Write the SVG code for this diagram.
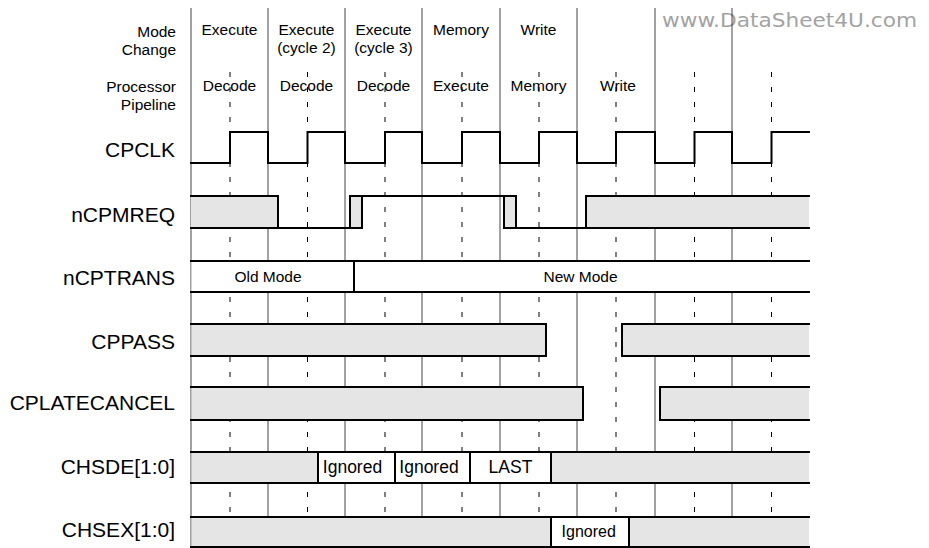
<svg xmlns="http://www.w3.org/2000/svg" width="929" height="548" viewBox="0 0 929 548">
<style>
text{font-family:"Liberation Sans",Arial,sans-serif;fill:#000}
.hdr{font-size:15.5px;text-anchor:middle}
.hl{font-size:15.5px;text-anchor:end}
.sig{font-size:21px;text-anchor:end}
.cyc{stroke:#444;stroke-width:1;fill:none}
.half{stroke:#000;stroke-width:1;stroke-dasharray:5 10;fill:none}
.w{stroke:#000;stroke-width:2;fill:none;stroke-linejoin:miter;stroke-linecap:square}
.g{fill:#e5e5e5;stroke:none}
.wh{fill:#fff;stroke:none}
.bl{font-size:17.5px;text-anchor:middle}
.wm{font-family:"DejaVu Sans",sans-serif;font-size:19px;fill:#a3a3a3}
</style>
<rect width="929" height="548" fill="#fff"/>
<text class="wm" x="662" y="27" textLength="255" lengthAdjust="spacingAndGlyphs">www.DataSheet4U.com</text>
<g id="grid">
<path class="cyc" d="M191,8V548M268,8V548M345,8V548M422,8V548M500,8V548M577,8V548M655,8V548M732,8V548"/>
<path class="half" d="M230,72V548M307.5,72V548M385,72V548M462,72V548M539,72V548M616,72V548M694.5,72V548M771.5,72V548"/>
</g>
<g id="header">
<text class="hl" x="176" y="37">Mode</text>
<text class="hl" x="176" y="55">Change</text>
<text class="hl" x="176" y="91.5">Processor</text>
<text class="hl" x="176" y="109.5">Pipeline</text>
<text class="hdr" x="229.5" y="34.5">Execute</text>
<text class="hdr" x="306.5" y="34.5">Execute</text>
<text class="hdr" x="306.5" y="52.5">(cycle 2)</text>
<text class="hdr" x="383.5" y="34.5">Execute</text>
<text class="hdr" x="383.5" y="52.5">(cycle 3)</text>
<text class="hdr" x="461" y="34.5">Memory</text>
<text class="hdr" x="538.5" y="34.5">Write</text>
<text class="hdr" x="229.5" y="90.7">Decode</text>
<text class="hdr" x="306.5" y="90.7">Decode</text>
<text class="hdr" x="383.5" y="90.7">Decode</text>
<text class="hdr" x="461" y="90.7">Execute</text>
<text class="hdr" x="538.5" y="90.7">Memory</text>
<text class="hdr" x="618" y="90.7">Write</text>
</g>
<g id="labels">
<text class="sig" x="175" y="156.5">CPCLK</text>
<text class="sig" x="175" y="221.5">nCPMREQ</text>
<text class="sig" x="175" y="285">nCPTRANS</text>
<text class="sig" x="175" y="348.5">CPPASS</text>
<text class="sig" x="175" y="410">CPLATECANCEL</text>
<text class="sig" x="175" y="473.5">CHSDE[1:0]</text>
<text class="sig" x="175" y="537">CHSEX[1:0]</text>
</g>
<g id="CPCLK">
<path class="w" d="M191,163H230V132H268V163H307.5V132H345V163H385V132H422V163H462V132H500V163H539V132H577V163H616V132H655V163H694.5V132H732V163H771.5V132H809"/>
</g>
<g id="nCPMREQ">
<rect class="g" x="191" y="196" width="87" height="32"/>
<rect class="g" x="350" y="196" width="12" height="32"/>
<rect class="g" x="504" y="196" width="12" height="32"/>
<rect class="g" x="586" y="196" width="223" height="32"/>
<path class="w" d="M191,196H278V228M191,228H362V196M350,228V196H516V228M504,196V228H809M586,228V196H809"/>
</g>
<g id="nCPTRANS">
<rect class="wh" x="191.5" y="261" width="617.5" height="31"/>
<path class="w" d="M191,261H809M191,292H809M354,261V292"/>
<text class="hdr" x="268" y="281.7">Old Mode</text>
<text class="hdr" x="580.5" y="281.7">New Mode</text>
</g>
<g id="CPPASS">
<rect class="g" x="191.5" y="324" width="354.5" height="32"/>
<rect class="g" x="622" y="324" width="187" height="32"/>
<path class="w" d="M191,324H546V356H191M809,324H622V356H809"/>
</g>
<g id="CPLATECANCEL">
<rect class="g" x="191.5" y="387" width="391.5" height="33"/>
<rect class="g" x="660" y="387" width="149" height="33"/>
<path class="w" d="M191,387H583V420H191M809,387H660V420H809"/>
</g>
<g id="CHSDE">
<rect class="g" x="191.5" y="452" width="126.5" height="31"/>
<rect class="wh" x="318" y="452" width="233" height="31"/>
<rect class="g" x="551" y="452" width="258" height="31"/>
<path class="w" d="M191,452H809M191,483H809M318,452V483M395,452V483M470,452V483M551,452V483"/>
<text class="bl" x="352.5" y="472.7">Ignored</text>
<text class="bl" x="429" y="472.7">Ignored</text>
<text class="bl" x="510.5" y="472.7">LAST</text>
</g>
<g id="CHSEX">
<rect class="g" x="191.5" y="517" width="359.5" height="30"/>
<rect class="wh" x="551" y="517" width="78" height="30"/>
<rect class="g" x="629" y="517" width="180" height="30"/>
<path class="w" d="M191,517H809M191,547H809M551,517V547M629,517V547"/>
<text class="bl" x="588.7" y="536.5" style="font-size:16px">Ignored</text>
</g>
</svg>
